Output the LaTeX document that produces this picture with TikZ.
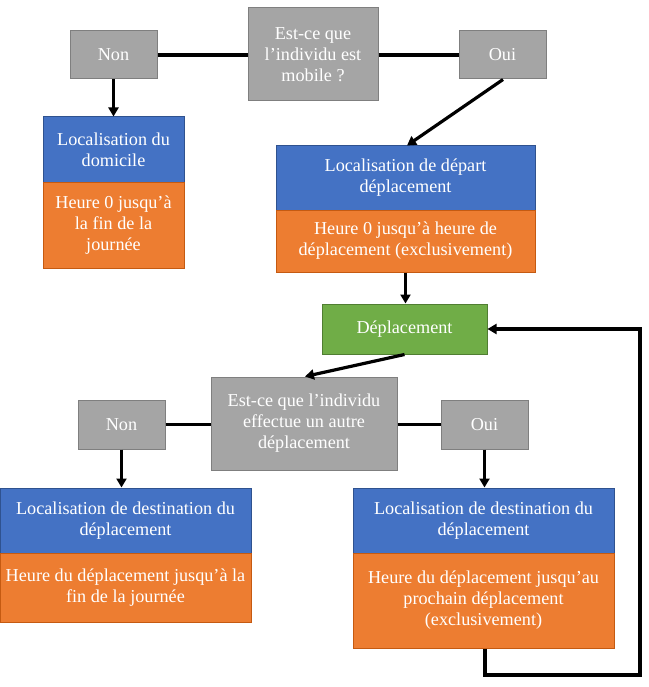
\documentclass[tikz,border=0pt]{standalone}
\usepackage{fontspec}
\setmainfont{Liberation Serif}
\usetikzlibrary{arrows.meta}
\definecolor{gfill}{HTML}{A5A5A5}
\definecolor{gline}{HTML}{7F7F7F}
\definecolor{bfill}{HTML}{4472C4}
\definecolor{bline}{HTML}{2F528F}
\definecolor{ofill}{HTML}{ED7D31}
\definecolor{oline}{HTML}{C55A11}
\definecolor{vfill}{HTML}{70AD47}
\definecolor{vline}{HTML}{507E32}
\tikzset{
  boxbase/.style={rectangle, inner sep=1pt, align=center, text=white, line width=1pt,
    font=\fontsize{18.2}{21}\selectfont},
  gbox/.style={boxbase, fill=gfill, draw=gline},
  bbox/.style={boxbase, fill=bfill, draw=bline},
  obox/.style={boxbase, fill=ofill, draw=oline},
  vbox/.style={boxbase, fill=vfill, draw=vline},
  conn/.style={line width=3.2pt, black},
  arr/.style={conn, -{Triangle[width=10pt,length=9pt]}},
}
\begin{document}
\begin{tikzpicture}[x=1pt,y=-1pt]
\useasboundingbox (0,0) rectangle (648,687);
% top
\node[gbox, minimum width=130, minimum height=93] (q1) at (313,54.5) {Est-ce que\\l’individu est\\mobile ?};
\node[gbox, minimum width=87, minimum height=48] (n1) at (113.5,55) {Non};
\node[gbox, minimum width=87, minimum height=48] (o1) at (502.5,55) {Oui};
\node[bbox, minimum width=141, minimum height=65] (domb) at (113.5,149.5) {Localisation du\\domicile};
\node[obox, minimum width=141, minimum height=86] (domo) at (113.5,225) {Heure 0 jusqu’à\\la fin de la\\journée};
\node[bbox, minimum width=259, minimum height=64] (depb) at (405.5,178) {Localisation de départ\\déplacement};
\node[obox, minimum width=259, minimum height=62] (depo) at (405.5,241) {Heure 0 jusqu’à heure de\\déplacement (exclusivement)};
\node[vbox, minimum width=165, minimum height=50] (dep) at (404.5,329) {Déplacement};
% second question
\node[gbox, minimum width=186, minimum height=93] (q2) at (304,423.5) {Est-ce que l’individu\\effectue un autre\\déplacement};
\node[gbox, minimum width=87, minimum height=49] (n2) at (121.5,424.5) {Non};
\node[gbox, minimum width=87, minimum height=49] (o2) at (484.5,424.5) {Oui};
\node[bbox, minimum width=251, minimum height=65] (lb) at (125.5,520.5) {Localisation de destination du\\déplacement};
\node[obox, minimum width=251, minimum height=69] (lo) at (125.5,587.5) {Heure du déplacement jusqu’à la\\fin de la journée};
\node[bbox, minimum width=261, minimum height=65] (rb) at (483.5,520.5) {Localisation de destination du\\déplacement};
\node[obox, minimum width=261, minimum height=95] (ro) at (483.5,600.5) {Heure du déplacement jusqu’au\\prochain déplacement\\(exclusivement)};
% connectors
\draw[conn] (n1.east) -- (q1.west |- n1.east);
\draw[conn] (q1.east |- o1.west) -- (o1.west);
\draw[arr] (n1.south) -- (domb.north);
\draw[arr] ([xshift=0.5pt]o1.south) -- ([xshift=1.5pt]depb.north);
\draw[arr] (depo.south) -- (dep.north -| depo.south);
\draw[arr] (dep.south) -- ([xshift=1pt]q2.north);
\draw[conn] (n2.east) -- (q2.west |- n2.east);
\draw[conn] (q2.east |- o2.west) -- (o2.west);
\draw[arr] (n2.south) -- (lb.north -| n2.south);
\draw[arr] (o2.south) -- (rb.north -| o2.south);
\coordinate (lp2) at (640,675);
\draw[arr] ([xshift=1.5pt]ro.south) |- (lp2) |- (dep.east);
\end{tikzpicture}
\end{document}
